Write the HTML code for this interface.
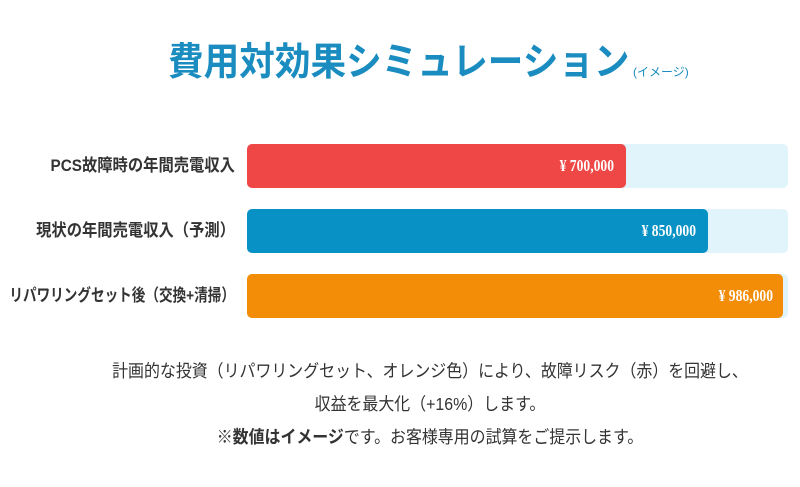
<!DOCTYPE html>
<html><head><meta charset="utf-8"><style>
body{margin:0;width:800px;height:487px;background:#fff;position:relative;overflow:hidden;font-family:"Liberation Sans","Noto Sans CJK JP",sans-serif;}
.title{position:absolute;left:168px;top:37px;font-size:38.5px;font-weight:bold;color:#1a8cbf;white-space:nowrap;line-height:52px;transform:scaleX(0.925);transform-origin:left center;}
.sub{position:absolute;left:633px;top:63px;font-size:12px;color:#1a8cbf;white-space:nowrap;}
.lab{position:absolute;right:565px;font-size:17px;font-weight:bold;color:#333;white-space:nowrap;transform:scaleX(0.9);transform-origin:right center;line-height:44px;}
.track{position:absolute;left:247px;width:541px;height:44px;background:#e2f4fb;border-radius:5px;}
.bar{position:absolute;left:247px;height:44px;border-radius:5px;}
.val{position:absolute;font-family:"Liberation Serif","Noto Serif CJK SC",serif;font-weight:bold;color:#fff;font-size:17px;line-height:44px;white-space:nowrap;transform:scaleX(0.8);transform-origin:right center;}
.t{position:absolute;left:0;width:860px;text-align:center;font-size:17.5px;color:#333;white-space:nowrap;transform:scaleX(0.91);transform-origin:430px center;}
</style></head><body>
<div class="title">費用対効果シミュレーション</div>
<div class="sub">(イメージ)</div>

<div class="lab" style="top:144px">PCS故障時の年間売電収入</div>
<div class="track" style="top:144px"></div>
<div class="bar" style="top:144px;width:379px;background:#ef4646"></div>
<div class="val" style="top:144px;right:186px">¥ 700,000</div>

<div class="lab" style="top:209px">現状の年間売電収入（予測）</div>
<div class="track" style="top:209px"></div>
<div class="bar" style="top:209px;width:461px;background:#0891c5"></div>
<div class="val" style="top:209px;right:104px">¥ 850,000</div>

<div class="lab" style="top:274px;transform:scaleX(0.8)">リパワリングセット後（交換+清掃）</div>
<div class="track" style="top:274px"></div>
<div class="bar" style="top:274px;width:536px;background:#f38d07"></div>
<div class="val" style="top:274px;right:27px">¥ 986,000</div>

<div class="t" style="top:358px">計画的な投資（リパワリングセット、オレンジ色）により、故障リスク（赤）を回避し、</div>
<div class="t" style="top:391px">収益を最大化（+16%）します。</div>
<div class="t" style="top:424px">※<b>数値はイメージ</b>です。お客様専用の試算をご提示します。</div>
</body></html>
